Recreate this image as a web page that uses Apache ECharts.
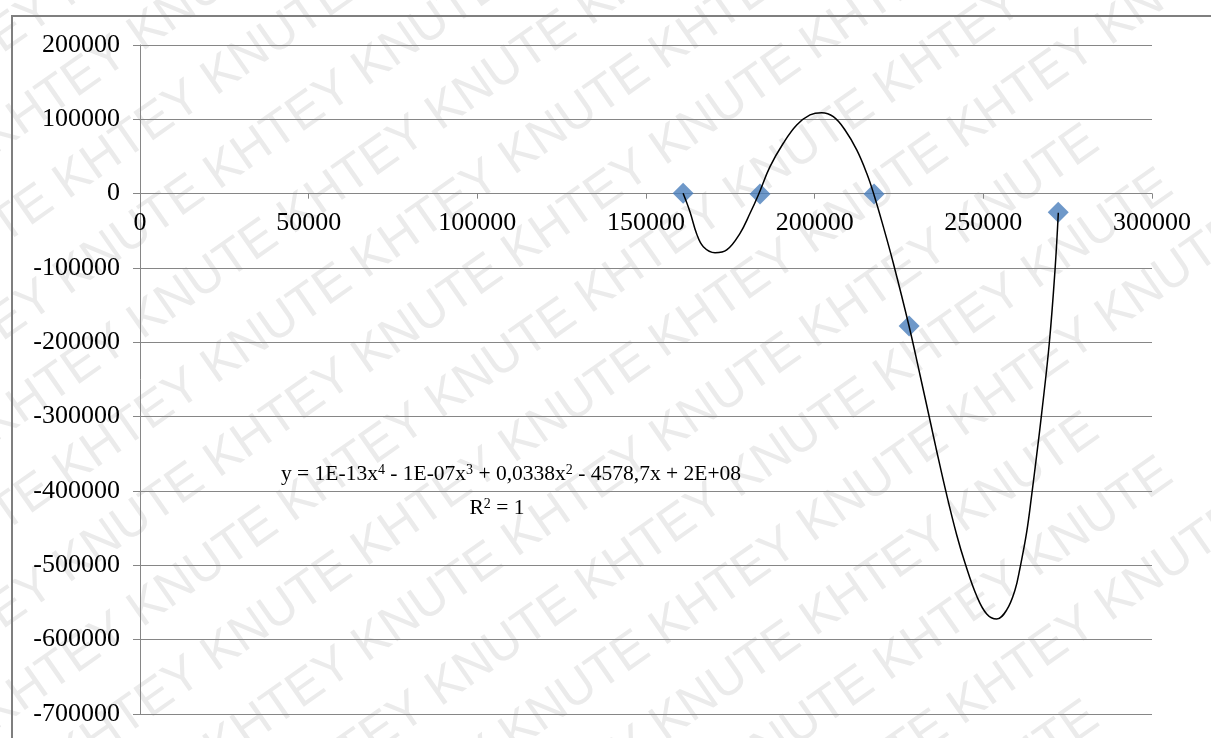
<!DOCTYPE html>
<html>
<head>
<meta charset="utf-8">
<script src="https://cdn.jsdelivr.net/npm/echarts@6/dist/echarts.min.js"></script>
<style>
html,body{margin:0;padding:0;background:#fff;}
#chart{width:1211px;height:738px;}
</style>
</head>
<body>
<div id="chart"></div>
<script>
// Observed data points (x, y)
const pointX = [161000, 183800, 217600, 228000, 272200];
const pointY = [500, -500, -500, -178000, -25000];

// Trendline
const curveX = [161000, 163050, 165030, 166990, 170460, 173930, 177870, 180840, 183300, 186760,
  190700, 194680, 198620, 202090, 205530, 209000, 212470, 215430, 217600, 220350,
  223320, 227970, 231230, 234490, 235970, 239140, 242110, 244570, 248040, 251000,
  253970, 256930, 259390, 260870, 262860, 264340, 265820, 267310, 269560, 271250,
  272230];
const curveY = [500, -24600, -54200, -71300, -79400, -75700, -53300, -26400, -1700, 36300,
  67800, 92400, 105900, 109000, 103600, 85700, 58800, 27400, -1700, -44400,
  -93600, -178000, -243900, -311200, -342100, -405300, -459100, -496800, -541200, -565400,
  -572200, -560000, -533200, -503600, -455100, -405300, -351500, -295000, -200900, -102600,
  -25600];

const yTicks = [-700000, -600000, -500000, -400000, -300000, -200000, -100000, 0, 100000, 200000];
const xTicks = [0, 50000, 100000, 150000, 200000, 250000, 300000];

const equationText = 'y = 1E-13x{s|4} - 1E-07x{s|3} + 0,0338x{s|2} - 4578,7x + 2E+08';
const r2Text = 'R{s|2} = 1';
const watermarkText = 'KHTEY KNUTE KHTEY KNUTE KHTEY KNUTE KHTEY KNUTE KHTEY KNUTE';

const chart = echarts.init(document.getElementById('chart'), null, {renderer: 'canvas'});

const W = 1211, H = 738;
const gridTop = 45, gridBottom = 24;
const yMin = yTicks[0], yMax = yTicks[yTicks.length - 1];
const gridH = H - gridTop - gridBottom;
const xAxisOffset = -gridH * (0 - yMin) / (yMax - yMin); // x axis crosses at y = 0

// decorative watermark (parallel diagonal rows, staggered along the row direction)
const wm = [];
const angDeg = 35, ang = angDeg * Math.PI / 180;
const dirX = Math.cos(ang), dirY = -Math.sin(ang);
for (let i = -6; i < 22; i++) {
  const k = ((i * 90) % 270 + 270) % 270;
  wm.push({
    type: 'text', silent: true, z: -10,
    x: -400 + k * dirX, y: i * 96 + k * dirY,
    rotation: ang,
    style: {text: watermarkText, fontSize: 50, fontFamily: 'Liberation Sans', fill: '#ebebeb'}
  });
}

const serif = 'Liberation Serif';
const pairs = (xs, ys) => xs.map((x, i) => [x, ys[i]]);

chart.setOption({
  animation: false,
  backgroundColor: '#ffffff',
  grid: {left: 140, right: 59, top: gridTop, bottom: gridBottom, containLabel: false, outerBoundsMode: 'none'},
  xAxis: {
    type: 'value', min: xTicks[0], max: xTicks[xTicks.length - 1], interval: 50000,
    offset: xAxisOffset,
    axisLine: {show: true, onZero: false, lineStyle: {color: '#868686', width: 1}},
    axisTick: {show: true, length: 5, lineStyle: {color: '#868686'}},
    axisLabel: {fontFamily: serif, fontSize: 26, color: '#000', margin: 17, formatter: v => String(v)},
    splitLine: {show: false}
  },
  yAxis: {
    type: 'value', min: yMin, max: yMax, interval: 100000,
    axisLine: {show: true, onZero: false, lineStyle: {color: '#868686', width: 1}},
    axisTick: {show: true, length: 7, lineStyle: {color: '#868686'}},
    axisLabel: {fontFamily: serif, fontSize: 26, color: '#000', margin: 20, formatter: v => String(v)},
    splitLine: {show: true, lineStyle: {color: '#868686', width: 1}}
  },
  graphic: wm.concat([
    {
      type: 'rect', silent: true, z: 100,
      shape: {x: 12, y: 16, width: 1300, height: 800},
      style: {fill: 'none', stroke: '#7f7f7f', lineWidth: 2}
    },
    {
      type: 'text', z: 100, x: 511, y: 474,
      style: {
        text: equationText, fontFamily: serif, fontSize: 21.5, fill: '#000',
        align: 'center', verticalAlign: 'middle',
        rich: {s: {fontSize: 14, fontFamily: serif, verticalAlign: 'top', padding: [0, 0, 8, 0]}}
      }
    },
    {
      type: 'text', z: 100, x: 497, y: 508,
      style: {
        text: r2Text, fontFamily: serif, fontSize: 21.5, fill: '#000',
        align: 'center', verticalAlign: 'middle',
        rich: {s: {fontSize: 14, fontFamily: serif, verticalAlign: 'top', padding: [0, 0, 8, 0]}}
      }
    }
  ]),
  series: [
    {
      type: 'line', data: pairs(curveX, curveY), smooth: 0.4, showSymbol: false,
      lineStyle: {color: '#000', width: 1.5}, z: 3, silent: true
    },
    {
      type: 'scatter', data: pairs(pointX, pointY), symbol: 'diamond', symbolSize: 21,
      itemStyle: {color: '#4a7ebb'}, z: 2
    }
  ]
});
</script>
</body>
</html>
